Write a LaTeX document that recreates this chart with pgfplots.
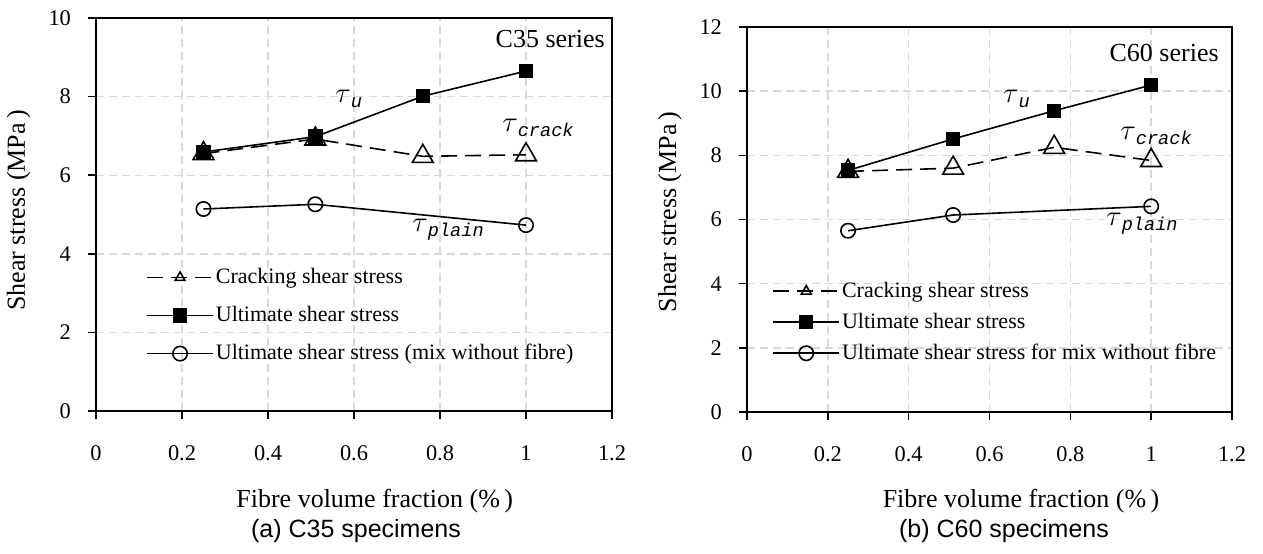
\documentclass[border=0pt]{standalone}
\usepackage{fontspec}
\setmainfont{Liberation Serif}
\newfontfamily\capfont{Liberation Sans}
\newfontfamily\subfont{Liberation Mono}
\usepackage{pgfplots}
\pgfplotsset{compat=1.18}

\pgfplotstableread{
x y
0.25 6.59
0.51 6.98
0.76 8.01
1.00 8.65
}\cthreeult
\pgfplotstableread{
x y
0.25 6.55
0.51 6.92
0.76 6.48
1.00 6.52
}\cthreecrack
\pgfplotstableread{
x y
0.25 5.14
0.51 5.26
1.00 4.73
}\cthreeplain
\pgfplotstableread{
x y
0.25 7.53
0.51 8.51
0.76 9.39
1.00 10.19
}\csixult
\pgfplotstableread{
x y
0.25 7.50
0.51 7.60
0.76 8.25
1.00 7.84
}\csixcrack
\pgfplotstableread{
x y
0.25 5.65
0.51 6.14
1.00 6.41
}\csixplain

\newcommand{\tlab}[1]{{\fontsize{14}{16}\selectfont$\tau$}\raisebox{-2.5pt}{\fontsize{9.3}{11}\subfont\itshape #1}}

\pgfplotsset{
  myaxis/.style={
    scale only axis,
    xmin=0, xmax=1.2, ymin=0,
    xtick={0,0.2,0.4,0.6,0.8,1,1.2},
    grid=major,
    major grid style={draw=black!15, dash pattern=on 4pt off 2.5pt, line width=0.7pt},
    axis line style={line width=1pt},
    tick style={line width=0.8pt, black},
    tick align=outside, major tick length=4pt,
    xtick pos=bottom, ytick pos=left,
    /pgf/number format/assume math mode=true,
    ticklabel style={font=\fontsize{11.2}{13}\selectfont},
    xticklabel shift=9.6pt,
    yticklabel shift=5pt,
    label style={font=\fontsize{13}{15}\selectfont},
    xlabel={Fibre volume fraction (\%\,)},
    ylabel={Shear stress (MPa\,)},
    legend cell align=left,
    legend style={draw=none, fill=none, inner sep=0pt,
      font=\fontsize{11}{13}\selectfont,
      nodes={inner sep=1pt, text height=8pt, text depth=2pt}},
    legend image code/.code={\draw[mark repeat=2,mark phase=2,#1] plot coordinates {(0pt,0pt) (16.5pt,0pt) (33pt,0pt)};},
  },
  crackstyle/.style={black, line width=0.8pt, dash pattern=on 8pt off 4pt,
    mark=triangle, mark size=6pt, mark options={solid, fill=white, line width=0.8pt},
    legend image code/.code={\draw[mark repeat=2,mark phase=2,##1,mark size=2.8pt] plot coordinates {(0pt,0pt) (16.5pt,0pt) (33pt,0pt)};}},
  ultstyle/.style={black, line width=0.8pt, mark=square*, mark size=3.2pt, mark options={solid, fill=black}},
  plainstyle/.style={black, line width=0.8pt, mark=o, mark size=3.6pt, mark options={solid, fill=white, line width=0.8pt}},
}

\begin{document}
\begin{tikzpicture}
\begin{axis}[myaxis,
  at={(48pt,71pt)}, anchor=south west,
  width=258pt, height=196.5pt,
  ymax=10, ytick={0,2,4,6,8,10},
  xlabel style={at={(axis description cs:0.54,-0.229)}, anchor=center},
  ylabel style={at={(axis description cs:-0.150,0.51)}, anchor=center, rotate=0},
  legend style={at={(axis cs:0.116,3.71)}, anchor=north west, row sep=7pt},
]
\addplot[crackstyle] table {\cthreecrack};
\addlegendentry{Cracking shear stress}
\addplot[ultstyle] table {\cthreeult};
\addlegendentry{Ultimate shear stress}
\addplot[plainstyle] table {\cthreeplain};
\addlegendentry{Ultimate shear stress (mix without fibre)}
\node[anchor=base west, inner sep=0pt] at (axis cs:0.556,7.86) {\tlab{u}};
\node[anchor=base west, inner sep=0pt] at (axis cs:0.944,7.12) {\tlab{crack}};
\node[anchor=base west, inner sep=0pt] at (axis cs:0.735,4.58) {\tlab{plain}};
\node[anchor=base east, inner sep=0pt, font=\fontsize{13}{15}\selectfont] at (axis cs:1.184,9.24) {C35 series};
\end{axis}

\begin{axis}[myaxis,
  at={(373.5pt,70.5pt)}, anchor=south west,
  width=242.5pt, height=192.5pt,
  ymax=12, ytick={0,2,4,6,8,10,12},
  xlabel style={at={(axis description cs:0.565,-0.231)}, anchor=center},
  ylabel style={at={(axis description cs:-0.159,0.52)}, anchor=center, rotate=0},
  legend style={at={(axis cs:0.062,4.15)}, anchor=north west, row sep=3.5pt},
]
\addplot[crackstyle] table {\csixcrack};
\addlegendentry{Cracking shear stress}
\addplot[ultstyle] table {\csixult};
\addlegendentry{Ultimate shear stress}
\addplot[plainstyle] table {\csixplain};
\addlegendentry{Ultimate shear stress for mix without fibre}
\node[anchor=base west, inner sep=0pt] at (axis cs:0.633,9.66) {\tlab{u}};
\node[anchor=base west, inner sep=0pt] at (axis cs:0.923,8.48) {\tlab{crack}};
\node[anchor=base west, inner sep=0pt] at (axis cs:0.888,5.80) {\tlab{plain}};
\node[anchor=base east, inner sep=0pt, font=\fontsize{13}{15}\selectfont] at (axis cs:1.168,10.91) {C60 series};
\end{axis}

\node[font=\capfont\fontsize{12.5}{14}\selectfont] at (178pt,11pt) {(a) C35 specimens};
\node[font=\capfont\fontsize{12.5}{14}\selectfont] at (502pt,11pt) {(b) C60 specimens};

\pgfresetboundingbox
\path (0,0) rectangle (631.5pt,276.5pt);
\end{tikzpicture}
\end{document}
